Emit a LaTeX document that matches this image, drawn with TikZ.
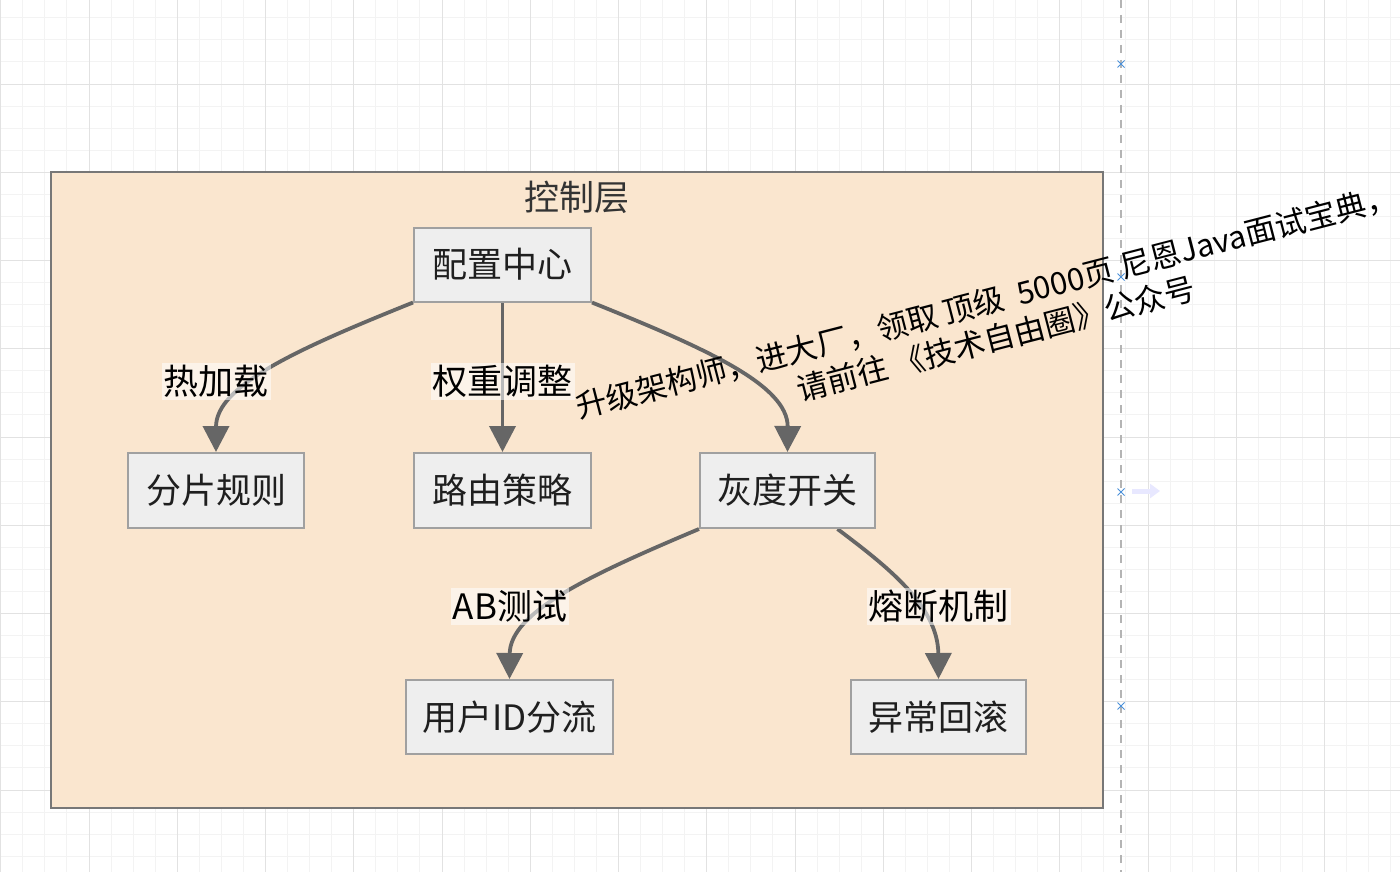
\documentclass[tikz,border=0pt]{standalone}
\usepackage{fontspec}
\setmainfont{Noto Sans CJK SC}
\usetikzlibrary{arrows.meta}
\definecolor{gridminor}{HTML}{F3F3F3}
\definecolor{gridmajor}{HTML}{E2E2E2}
\definecolor{layerfill}{HTML}{FAE6CF}
\definecolor{layerline}{HTML}{777777}
\definecolor{nodefill}{HTML}{EEEEEE}
\definecolor{nodeline}{HTML}{A0A0A0}
\definecolor{edgecol}{HTML}{666666}
\definecolor{markblue}{HTML}{4A90D9}
\definecolor{dashcol}{HTML}{B4B4B4}
\begin{document}
\begin{tikzpicture}[x=1pt,y=-1pt,
  big/.style={font=\fontsize{35pt}{42pt}\selectfont, text height=30.8pt, text depth=4.2pt},
  box/.style={big, draw=nodeline, line width=2pt, fill=nodefill, minimum width=#1, minimum height=74pt, inner sep=0pt, text=black!88},
  lbl/.style={big, fill=white, fill opacity=0.55, text opacity=1, inner xsep=2pt, inner ysep=1pt, text=black},
  edge/.style={draw=edgecol, line width=3.8pt, -{Triangle[length=26pt,width=26pt]}},
  dashline/.style={draw=dashcol, line width=2pt, dash pattern=on 8pt off 7pt},
]
\useasboundingbox (0,0) rectangle (1400,872);
\fill[white] (0,0) rectangle (1400,872);
% grid
\foreach \i in {0,...,63} \draw[gridminor, line width=1pt] ({floor(0.8+22.0625*\i)+0.5},0) -- ++(0,872);
\foreach \i in {1,...,40} \draw[gridminor, line width=1pt] (0,{floor(-4.25+22.0625*\i)+0.5}) -- ++(1400,0);
\foreach \i in {0,...,15} \draw[gridmajor, line width=1pt] ({floor(0.8+88.25*\i)+0.5},0) -- ++(0,872);
\foreach \i in {1,...,10} \draw[gridmajor, line width=1pt] (0,{floor(-4.25+88.25*\i)+0.5}) -- ++(1400,0);
% dashed guide and marks
\coordinate (gtop) at (1121,0);
\coordinate (gbot) at (1121,872);
\draw[dashline] (gtop) -- (gbot);
\foreach \yy in {64,277,492,706}
  \draw[markblue, line width=1pt] (1117.5,\yy-3.5) -- (1124.5,\yy+3.5) (1117.5,\yy+3.5) -- (1124.5,\yy-3.5);
\coordinate (fa1) at (1132,491);
\coordinate (fa2) at (1160,491);
\draw[blue!9, line width=5pt, -{Triangle[length=10pt,width=14pt]}] (fa1) -- (fa2);
% container
\node[draw=layerline, fill=layerfill, line width=2.5pt, minimum width=1052pt, minimum height=636pt, inner sep=0pt] (layer) at (577,490) {};
\node[big, text=black!80] (title) at (577,197) {控制层};
% nodes
\node[box=177pt] (cfg) at (502.5,264.5) {配置中心};
\node[box=176pt, minimum height=75pt] (shard) at (216,490.5) {分片规则};
\node[box=177pt, minimum height=75pt] (route) at (502.5,490.5) {路由策略};
\node[box=175pt, minimum height=75pt] (gray) at (787.5,490.5) {灰度开关};
\node[box=207pt] (uid) at (509.5,717) {用户ID分流};
\node[box=175pt] (roll) at (938.5,717) {异常回滚};
% edges
\draw[edge] (cfg.south west) .. controls (300,348) and (216,385) .. (shard.north);
\draw[edge] (cfg.south) -- (route.north);
\draw[edge] (cfg.south east) .. controls (705,348) and (788,385) .. (gray.north);
\draw[edge] (gray.south west) .. controls (590,575) and (510,612) .. (uid.north);
\draw[edge] ([xshift=50pt]gray.south) .. controls (885,565) and (938,605) .. (roll.north);
% edge labels
\node[lbl] (l1) at (216,381) {热加载};
\node[lbl] (l2) at (502.5,381) {权重调整};
\node[lbl] (l3) at (510,606) {AB测试};
\node[lbl] (l4) at (938.5,606) {熔断机制};
% redraw nodes above edges
\node[box=177pt] at (cfg) {配置中心};
\node[box=175pt, minimum height=75pt] at (gray) {灰度开关};
% watermark
\node[rotate=14.5, align=center, font=\fontsize{31pt}{38pt}\selectfont, text=black, inner sep=0pt] (wm) at (991,320) {升级架构师，进大厂，领取 顶级\ \ 5000页 尼恩Java面试宝典，\\请前往 《技术自由圈》公众号};
\end{tikzpicture}
\end{document}
